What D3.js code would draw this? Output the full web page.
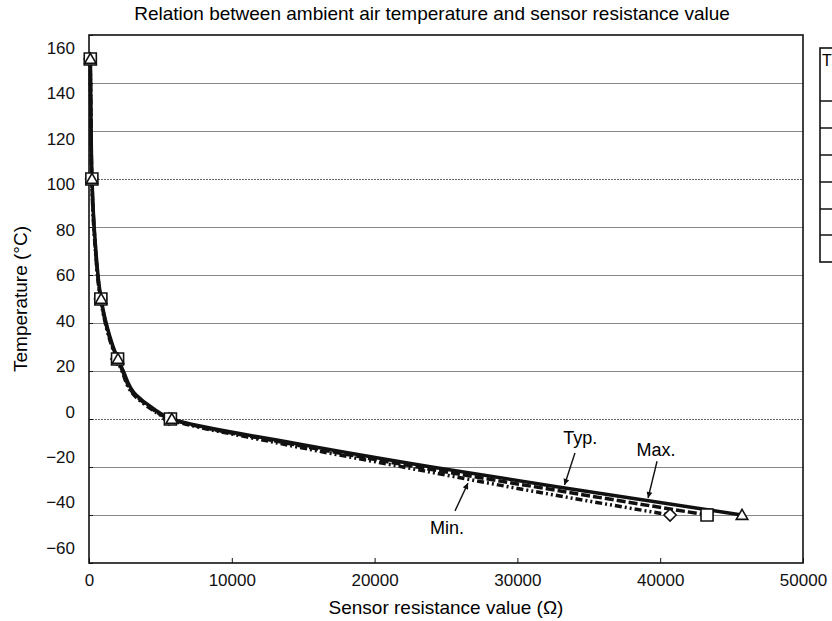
<!DOCTYPE html>
<html>
<head>
<meta charset="utf-8">
<script src="https://cdnjs.cloudflare.com/ajax/libs/d3/7.8.5/d3.min.js"></script>
<style>
  body { margin: 0; background: #fff; }
  svg { display: block; font-family: "Liberation Sans", Arial, Helvetica, sans-serif; }
  .axis text { font-size: 17px; fill: #111; }
  .axis path { display: none; }
  .axis line { stroke: #111; }
</style>
</head>
<body>
<svg id="chart"></svg>
<script>
// temperature (°C) vs resistance (ohm)
const temps = [150, 125, 100, 75, 50, 40, 30, 25, 20, 10, 5, 0, -10, -20, -30, -40];
const maxRes = [95, 140, 210, 420, 850, 1200, 1700, 2030, 2400, 3300, 4350, 5800, 14300, 24000, 34700, 45730];
const typRes = [90, 135, 200, 405, 830, 1170, 1660, 2000, 2350, 3220, 4250, 5700, 13800, 23000, 33000, 43280];
const minRes = [85, 130, 190, 390, 810, 1140, 1620, 1960, 2300, 3150, 4150, 5600, 13200, 22000, 31000, 40690];
const markerTemps = [150, 100, 50, 25, 0, -40];

const xTicks = [0, 10000, 20000, 30000, 40000, 50000];
const yTicks = [160, 140, 120, 100, 80, 60, 40, 20, 0, -20, -40, -60];
const dottedGrid = [100, 0];

// callouts: [text, text ohm, text °C, arrow start ohm, °C, arrow tip ohm, °C]
const notes = [
  ["Typ.", 34400, -10.4, 34030, -14.2, 33300, -27.5],
  ["Max.", 39700, -15.4, 39780, -17.6, 39150, -32.9],
  ["Min.", 25070, -47.9, 25630, -38.3, 26540, -26.7]
];

class TempChart {
  constructor(_config) {
    this.config = {
      parentElement: _config.parentElement,
      containerWidth: _config.containerWidth || 832,
      containerHeight: _config.containerHeight || 621,
      margin: _config.margin || {top: 35, right: 29, bottom: 58, left: 89}
    };
    this.initVis();
  }

  initVis() {
    let vis = this;
    vis.width = vis.config.containerWidth - vis.config.margin.left - vis.config.margin.right;
    vis.height = vis.config.containerHeight - vis.config.margin.top - vis.config.margin.bottom;

    vis.xScale = d3.scaleLinear().domain([0, 50000]).range([0, vis.width]);
    vis.yScale = d3.scaleLinear().domain([-60, 160]).range([vis.height, 0]);
    // the printed y labels sit on a slightly tighter spacing than the grid
    vis.yLabelScale = d3.scaleLinear().domain([-60, 160]).range([vis.height - 15, 13]);

    vis.svg = d3.select(vis.config.parentElement)
      .attr('width', vis.config.containerWidth)
      .attr('height', vis.config.containerHeight);

    vis.svg.append('defs').append('marker')
      .attr('id', 'arrow')
      .attr('viewBox', '0 0 10 10')
      .attr('refX', 10).attr('refY', 5)
      .attr('markerWidth', 11).attr('markerHeight', 6)
      .attr('markerUnits', 'userSpaceOnUse')
      .attr('orient', 'auto')
      .append('path')
      .attr('d', 'M0,0L10,5L0,10z')
      .attr('fill', '#111');

    vis.chart = vis.svg.append('g')
      .attr('transform', `translate(${vis.config.margin.left},${vis.config.margin.top})`);

    // title
    vis.svg.append('text')
      .attr('x', 432).attr('y', 20)
      .attr('text-anchor', 'middle')
      .style('font-size', '19px')
      .text('Relation between ambient air temperature and sensor resistance value');

    // axis titles
    vis.svg.append('text')
      .attr('x', vis.config.margin.left + vis.width / 2)
      .attr('y', 614)
      .attr('text-anchor', 'middle')
      .style('font-size', '19px')
      .text('Sensor resistance value (Ω)');

    vis.svg.append('text')
      .attr('transform', `translate(27,${vis.config.margin.top + vis.height / 2}) rotate(-90)`)
      .attr('text-anchor', 'middle')
      .style('font-size', '19px')
      .text('Temperature (°C)');

    vis.renderVis();
  }

  renderVis() {
    let vis = this;

    // grid
    vis.chart.append('g')
      .selectAll('line')
      .data(yTicks.filter(d => d > -60 && d < 160))
      .join('line')
      .attr('x1', 0).attr('x2', vis.width)
      .attr('y1', d => Math.round(vis.yScale(d)) + 0.5)
      .attr('y2', d => Math.round(vis.yScale(d)) + 0.5)
      .attr('stroke', d => dottedGrid.includes(d) ? '#666' : '#888')
      .attr('stroke-width', 1)
      .attr('stroke-dasharray', d => dottedGrid.includes(d) ? '2,1' : null);

    vis.yTickAxis = d3.axisLeft(vis.yScale).tickValues(yTicks).tickSize(-4).tickFormat('');
    vis.yAxis = d3.axisLeft(vis.yLabelScale).tickValues(yTicks).tickSize(0).tickPadding(14);
    vis.xAxis = d3.axisBottom(vis.xScale).tickValues(xTicks).tickSize(-5).tickPadding(11)
      .tickFormat(d3.format('d'));

    vis.chart.append('g').attr('class', 'axis y-ticks').call(vis.yTickAxis);
    vis.chart.append('g').attr('class', 'axis y-axis').call(vis.yAxis);
    vis.chart.append('g').attr('class', 'axis x-axis')
      .attr('transform', `translate(0,${vis.height})`)
      .call(vis.xAxis);

    // frame
    vis.chart.append('rect')
      .attr('width', vis.width).attr('height', vis.height)
      .attr('fill', 'none').attr('stroke', '#111').attr('stroke-width', 1.6);

    const series = [
      {key: 'min', res: minRes, dash: '7,3,2,3,2,3', sym: d3.symbolDiamond2, size: 95},
      {key: 'typ', res: typRes, dash: '9,3', sym: d3.symbolSquare2, size: 185},
      {key: 'max', res: maxRes, dash: null, sym: d3.symbolTriangle2, size: 95}
    ];

    const line = d3.line()
      .x(d => vis.xScale(d[1]))
      .y(d => vis.yScale(d[0]))
      .curve(d3.curveMonotoneY);

    series.forEach(s => {
      vis.chart.append('path')
        .datum(temps.map((t, i) => [t, s.res[i]]))
        .attr('class', 'curve ' + s.key)
        .attr('fill', 'none')
        .attr('stroke', '#111')
        .attr('stroke-width', 3.5)
        .attr('stroke-dasharray', s.dash)
        .attr('d', line);
    });

    series.forEach(s => {
      vis.chart.append('g')
        .selectAll('path')
        .data(markerTemps.map(t => [t, s.res[temps.indexOf(t)]]))
        .join('path')
        .attr('transform', d => `translate(${vis.xScale(d[1])},${vis.yScale(d[0]) + (s.key === 'max' ? 1 : 0)})`)
        .attr('d', d3.symbol().type(s.sym).size(s.size))
        .attr('fill', '#fff')
        .attr('stroke', '#111')
        .attr('stroke-width', 1.6);
    });

    // callouts
    const ann = vis.chart.append('g');
    ann.selectAll('line')
      .data(notes)
      .join('line')
      .attr('x1', d => vis.xScale(d[3]))
      .attr('y1', d => vis.yScale(d[4]))
      .attr('x2', d => vis.xScale(d[5]))
      .attr('y2', d => vis.yScale(d[6]))
      .attr('stroke', '#111')
      .attr('stroke-width', 1.4)
      .attr('marker-end', 'url(#arrow)');
    ann.selectAll('text')
      .data(notes)
      .join('text')
      .attr('x', d => vis.xScale(d[1]))
      .attr('y', d => vis.yScale(d[2]))
      .attr('text-anchor', 'middle')
      .style('font-size', '18px')
      .text(d => d[0]);

    // table on the right edge, cut off by the page
    const tbl = vis.svg.append('g').attr('transform', 'translate(820,48)');
    tbl.append('rect')
      .attr('width', 60).attr('height', 214)
      .attr('fill', 'none').attr('stroke', '#111').attr('stroke-width', 1.6);
    tbl.selectAll('line')
      .data([53, 80, 107, 134, 161, 187])
      .join('line')
      .attr('x1', 0).attr('x2', 60)
      .attr('y1', d => d).attr('y2', d => d)
      .attr('stroke', '#111').attr('stroke-width', 1.4);
    tbl.append('text')
      .attr('x', 2).attr('y', 18)
      .style('font-size', '16px')
      .text('T');
  }
}

new TempChart({parentElement: '#chart'});
</script>
</body>
</html>
